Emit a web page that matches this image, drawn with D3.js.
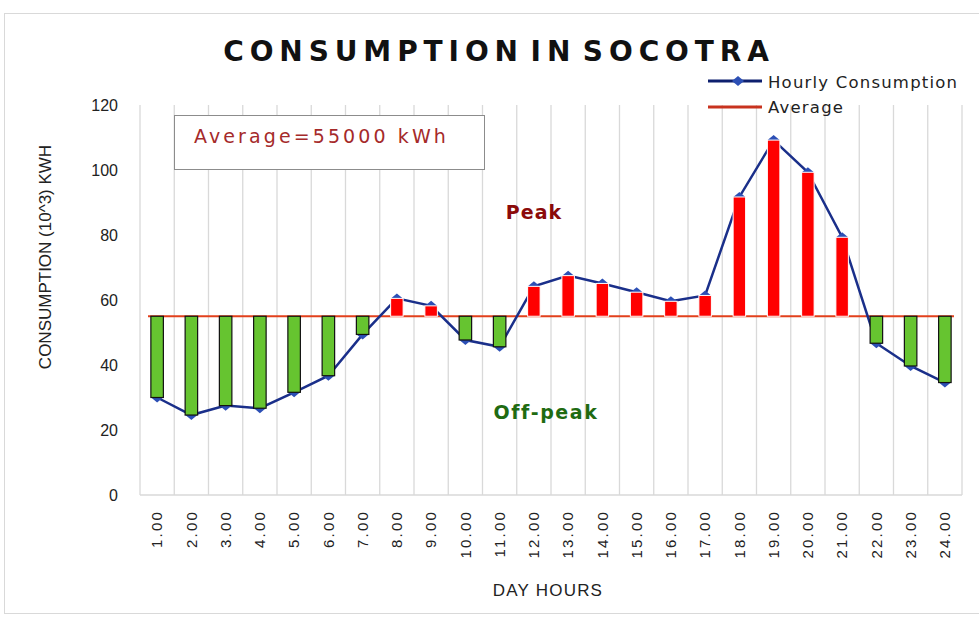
<!DOCTYPE html>
<html>
<head>
<meta charset="utf-8">
<script src="https://cdn.jsdelivr.net/npm/d3@7"></script>
<style>
    body { margin: 0; background: #fff; }
    svg { display: block; }
</style>
</head>
<body>
<svg id="chart"></svg>
<script>
const hours = ["1.00", "2.00", "3.00", "4.00", "5.00", "6.00", "7.00", "8.00", "9.00", "10.00", "11.00", "12.00",
    "13.00", "14.00", "15.00", "16.00", "17.00", "18.00", "19.00", "20.00", "21.00", "22.00", "23.00", "24.00"];
const consumption = [30, 24.6, 27.5, 26.7, 31.6, 36.7, 49.4, 60.5, 58.2, 47.7, 45.6, 64.2,
    67.5, 65.1, 62.4, 59.6, 61.4, 91.7, 109.2, 99.3, 79.3, 46.7, 39.7, 34.6];
const average = 55;
const yTicks = [0, 20, 40, 60, 80, 100, 120];

const width = 979, height = 617;
const margin = { top: 105, right: 17, bottom: 122, left: 140 };
const sans = "'Liberation Sans', Arial, sans-serif";

const svg = d3.select("#chart")
    .attr("width", width)
    .attr("height", height);

// outer chart border
svg.append("rect")
    .attr("x", 4.5).attr("y", 13.5)
    .attr("width", width - 4).attr("height", 600)
    .attr("fill", "none")
    .attr("stroke", "#d9d9d9");

const x = d3.scaleBand()
    .domain(hours)
    .range([margin.left, width - margin.right])
    .padding(0);

const y = d3.scaleLinear()
    .domain([0, 120])
    .range([height - margin.bottom, margin.top]);

const bandEdges = hours.map(h => x(h)).concat([x.range()[1]]);

// vertical gridlines
svg.append("g")
    .selectAll("line")
    .data(bandEdges)
    .enter().append("line")
    .attr("x1", d => d).attr("x2", d => d)
    .attr("y1", y(120)).attr("y2", y(0))
    .attr("stroke", "#d9d9d9")
    .attr("stroke-width", 1.3);

svg.append("line")
    .attr("x1", x.range()[0]).attr("x2", x.range()[1])
    .attr("y1", y(0)).attr("y2", y(0))
    .attr("stroke", "#d9d9d9")
    .attr("stroke-width", 1.3);

// y axis
const yAxis = svg.append("g")
    .attr("transform", `translate(${margin.left - 22},0)`)
    .call(d3.axisLeft(y).tickValues(yTicks).tickSize(0).tickPadding(0));
yAxis.select(".domain").remove();
yAxis.selectAll("text")
    .style("font-family", sans)
    .style("font-size", "16px")
    .attr("fill", "#222");

// x axis
const xAxis = svg.append("g")
    .attr("transform", `translate(0,${y(0) + 15})`)
    .call(d3.axisBottom(x).tickSize(0).tickPadding(0));
xAxis.select(".domain").remove();
xAxis.selectAll("text")
    .attr("transform", "rotate(-90)")
    .attr("x", 0)
    .attr("y", 0)
    .attr("dy", "0.35em")
    .style("text-anchor", "end")
    .style("font-family", sans)
    .style("font-size", "15px")
    .style("letter-spacing", "2.2px")
    .attr("fill", "#222");

// axis titles
svg.append("text")
    .attr("transform", "translate(51,257) rotate(-90)")
    .attr("text-anchor", "middle")
    .style("font-family", sans)
    .style("font-size", "17px")
    .attr("fill", "#222")
    .text("CONSUMPTION (10^3) KWH");

svg.append("text")
    .attr("x", 548).attr("y", 596)
    .attr("text-anchor", "middle")
    .style("font-family", sans)
    .style("font-size", "17px")
    .style("letter-spacing", "1.2px")
    .attr("fill", "#222")
    .text("DAY HOURS");

// title
svg.append("text")
    .attr("x", 499).attr("y", 61)
    .attr("text-anchor", "middle")
    .style("font-family", "'DejaVu Sans', sans-serif")
    .style("font-weight", "bold")
    .style("font-size", "28px")
    .style("letter-spacing", "5.9px")
    .style("word-spacing", "-9px")
    .attr("fill", "#111")
    .text("CONSUMPTION IN SOCOTRA");

// average line
svg.append("line")
    .attr("x1", x.range()[0] + 8).attr("x2", x.range()[1] - 8)
    .attr("y1", y(average)).attr("y2", y(average))
    .attr("stroke", "#e2401c")
    .attr("stroke-width", 2);

// consumption line
const line = d3.line()
    .x((d, i) => x(hours[i]) + x.bandwidth() / 2)
    .y(d => y(d));

svg.append("path")
    .datum(consumption)
    .attr("fill", "none")
    .attr("stroke", "#1a2f8a")
    .attr("stroke-width", 2.5)
    .attr("d", line);

const diamond = "M0,-5L6,0L0,5L-6,0Z";
svg.append("g")
    .selectAll("path")
    .data(consumption)
    .enter().append("path")
    .attr("d", diamond)
    .attr("transform", (d, i) => `translate(${x(hours[i]) + x.bandwidth() / 2},${y(d)})`)
    .attr("fill", "#2c4fb5");

// deviation bars
const barW = 12.5;
svg.append("g")
    .selectAll("rect")
    .data(consumption)
    .enter().append("rect")
    .attr("x", (d, i) => x(hours[i]) + x.bandwidth() / 2 - barW / 2)
    .attr("y", d => y(Math.max(d, average)))
    .attr("width", barW)
    .attr("height", d => Math.abs(y(d) - y(average)))
    .attr("fill", d => d >= average ? "#ff0000" : "#66c430")
    .attr("stroke", d => d >= average ? "#fff" : "#111")
    .attr("stroke-width", d => d >= average ? 1 : 1.2);

// annotation box
svg.append("rect")
    .attr("x", 174.5).attr("y", 115.5)
    .attr("width", 310).attr("height", 54)
    .attr("fill", "#fff")
    .attr("stroke", "#8c8c8c")
    .attr("stroke-width", 1);

svg.append("text")
    .attr("x", 194).attr("y", 143)
    .style("font-family", "'DejaVu Sans', sans-serif")
    .style("font-size", "19px")
    .style("letter-spacing", "3.1px")
    .attr("fill", "#a52a2a")
    .text("Average=55000 kWh");

svg.append("text")
    .attr("x", 534).attr("y", 219)
    .attr("text-anchor", "middle")
    .style("font-family", "'DejaVu Sans', sans-serif")
    .style("font-weight", "bold")
    .style("font-size", "19px")
    .style("letter-spacing", "1px")
    .attr("fill", "#8b0a0a")
    .text("Peak");

svg.append("text")
    .attr("x", 546).attr("y", 419)
    .attr("text-anchor", "middle")
    .style("font-family", "'DejaVu Sans', sans-serif")
    .style("font-weight", "bold")
    .style("font-size", "19px")
    .style("letter-spacing", "1.6px")
    .attr("fill", "#1f6b12")
    .text("Off-peak");

// legend
const legend = svg.append("g");
legend.append("line")
    .attr("x1", 708).attr("x2", 762).attr("y1", 81).attr("y2", 81)
    .attr("stroke", "#0d1f6e").attr("stroke-width", 3);
legend.append("path")
    .attr("d", diamond)
    .attr("transform", "translate(738,81)")
    .attr("fill", "#2c4fb5");
legend.append("text")
    .attr("x", 768).attr("y", 88)
    .style("font-family", "'DejaVu Sans', sans-serif")
    .style("font-size", "16.5px")
    .style("letter-spacing", "1.2px")
    .attr("fill", "#222")
    .text("Hourly Consumption");
legend.append("line")
    .attr("x1", 708).attr("x2", 762).attr("y1", 107).attr("y2", 107)
    .attr("stroke", "#c8321e").attr("stroke-width", 3);
legend.append("text")
    .attr("x", 768).attr("y", 113)
    .style("font-family", "'DejaVu Sans', sans-serif")
    .style("font-size", "16.5px")
    .style("letter-spacing", "1.2px")
    .attr("fill", "#222")
    .text("Average");
</script>
</body>
</html>
